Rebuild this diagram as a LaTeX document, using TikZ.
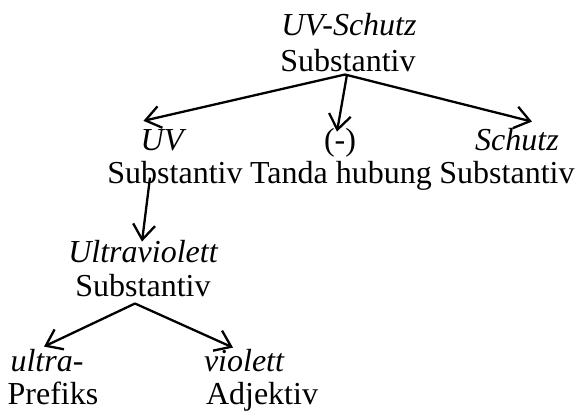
\documentclass[tikz,border=0pt]{standalone}
\usepackage{fontspec}
\setmainfont{Liberation Serif}
\usetikzlibrary{arrows.meta,calc}
\begin{document}
\begin{tikzpicture}[x=1pt,y=-1pt,
  lbl/.style={inner sep=0pt,anchor=base,font=\fontsize{32}{36}\selectfont},
  word/.style={lbl,font=\fontsize{32}{36}\selectfont\itshape},
  arr/.style={line width=2.3pt,-{Straight Barb[length=15pt,width=22pt,line width=2.3pt]}}]
\useasboundingbox (0,0) rectangle (579,412);
\node[word] (r1) at (349,36) {UV-Schutz};
\node[lbl]  (r2) at (348,72) {Substantiv};
\node[word] (a1) at (162,150) {UV};
\node[lbl]  (a2) at (175,183) {Substantiv};
\node[lbl]  (b1) at (340,150) {(-)};
\node[lbl]  (b2) at (341,183) {Tanda hubung};
\node[word] (c1) at (517,150) {Schutz};
\node[lbl]  (c2) at (507,183) {Substantiv};
\node[word] (d1) at (143,262) {Ultraviolett};
\node[lbl]  (d2) at (143,296) {Substantiv};
\node[word] (e1) at (47,371) {ultra-};
\node[lbl]  (e2) at (53,404) {Prefiks};
\node[word] (f1) at (244,371) {violett};
\node[lbl]  (f2) at (262,404) {Adjektiv};
\draw[arr] ($(r2.south)+(-3,2)$) -- ($(a1.north west)+(3,-8)$);
\draw[arr] ($(r2.south)+(-1,2)$) -- ($(b1.north)+(-3,4)$);
\draw[arr] ($(r2.south)+(-3,2)$) -- ($(c1.north)+(15,-6)$);
\draw[arr] ($(a2.north)+(-25,17)$) -- ($(d1.north)+(-1,2)$);
\draw[arr] ($(d2.south)+(-8,7)$) -- ($(e1.north)+(-3,-2)$);
\draw[arr] ($(d2.south)+(-8,7)$) -- ($(f1.north)+(-11,-1)$);
\end{tikzpicture}
\end{document}
